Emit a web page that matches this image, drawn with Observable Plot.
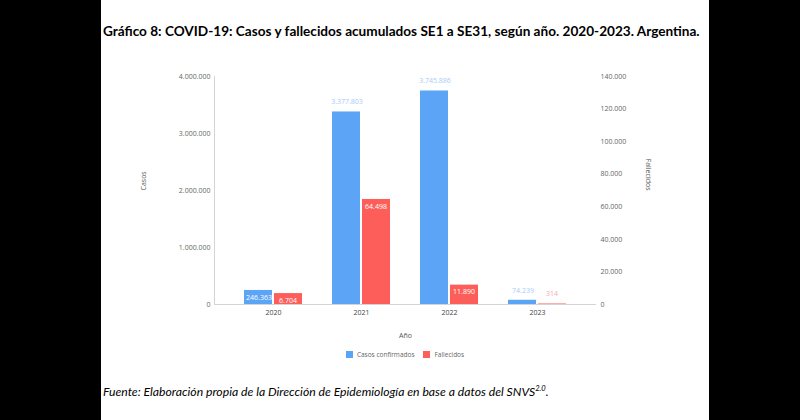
<!DOCTYPE html>
<html>
<head>
<meta charset="utf-8">
<script src="https://cdn.jsdelivr.net/npm/d3@7"></script>
<script src="https://cdn.jsdelivr.net/npm/@observablehq/plot@0.6"></script>
<style>
  html, body { margin: 0; padding: 0; background: #000; width: 800px; height: 420px; overflow: hidden; }
  #page { position: absolute; left: 101px; top: 0; width: 608px; height: 420px; background: #fff; overflow: hidden; }
  #title { position: absolute; left: 2px; top: 23px; text-align: left;
           font: bold 15px Lato, sans-serif; color: #000; white-space: nowrap; }
  #chart { position: absolute; left: 0; top: 60px; width: 608px; height: 300px; }
  #chart svg { position: absolute; left: 0; top: 0; }
  #legend { position: absolute; left: 0; top: 350px; width: 608px; display: flex; justify-content: center;
            font: 6.5px "Open Sans", sans-serif; color: #666; gap: 9px; }
  #legend span.item { display: flex; align-items: center; gap: 4px; }
  #legend span.sw { display: inline-block; width: 7px; height: 7px; }
  #caption { position: absolute; left: 2px; top: 384px; font: italic 13px Lato, sans-serif; color: #000; white-space: nowrap; }
  #caption sup { font-size: 0.62em; }
</style>
</head>
<body>
<div id="page">
  <div id="title">Gráfico 8: COVID-19: Casos y fallecidos acumulados SE1 a SE31, según año. 2020-2023. Argentina.</div>
  <div id="chart"></div>
  <div id="legend"></div>
  <div id="caption">Fuente: Elaboración propia de la Dirección de Epidemiología en base a datos del SNVS<sup>2.0</sup>.</div>
</div>
<script>
// Cumulative COVID-19 cases and deaths, epidemiological weeks 1 to 31
const years = ["2020", "2021", "2022", "2023"];
const casos = [246363, 3377803, 3745886, 74239];
const fallecidos = [6704, 64498, 11890, 314];
const casosTicks = [0, 1000000, 2000000, 3000000, 4000000];
const fallecidosTicks = [0, 20000, 40000, 60000, 80000, 100000, 120000, 140000];
const seriesNames = ["Casos confirmados", "Fallecidos"];

const BLUE = "#5ba4f6";
const RED = "#fd5e5a";
const BLUE_LABEL = "#a9cbf7";
const RED_LABEL = "#f8aaa8";

const fmt = d3.formatLocale({decimal: ",", thousands: ".", grouping: [3], currency: ["$", ""]}).format(",d");

const W = 608, H = 300;
const margins = {marginTop: 16, marginRight: 113, marginBottom: 56, marginLeft: 113};
const FONT = "'Open Sans', sans-serif";

// A label sits inside the bar when the bar is neither tiny nor tall
const inside = (v, max) => v / max > 0.04 && v / max < 0.6;

function seriesPlot({values, max, ticks, fill, labelFill, side, title}) {
  const data = years.map((year, i) => ({year, value: values[i]}));
  const half = 30;
  const dx = side === "left" ? -14.5 : 14.5;
  const marks = [
    Plot.barY(data, {x: "year", y: "value", fill,
      insetRight: side === "left" ? half : 0, insetLeft: side === "left" ? 0 : half}),
    Plot.text(data.filter(d => inside(d.value, max)), {x: "year", y: "value", text: d => fmt(d.value),
      dx, dy: 7, fill: "white", lineAnchor: "middle"}),
    Plot.text(data.filter(d => !inside(d.value, max)), {x: "year", y: "value", text: d => fmt(d.value),
      dx, dy: -10, fill: labelFill, lineAnchor: "middle"}),
    Plot.axisY({anchor: side, ticks, tickFormat: fmt, tickSize: 0, tickPadding: 4, label: null, fill: "#666"}),
    Plot.text([title], {frameAnchor: side, dx: side === "left" ? -71 : 52,
      rotate: side === "left" ? -90 : 90, fill: "#555", lineAnchor: "middle"})
  ];
  if (side === "left") {
    marks.unshift(Plot.frame({anchor: "left", stroke: "#d4d4d4"}), Plot.ruleY([0], {stroke: "#d4d4d4"}));
    marks.push(
      Plot.axisX({tickSize: 0, tickPadding: 6, label: null, fill: "#444"}),
      Plot.text(["Año"], {frameAnchor: "bottom", dy: 31, fill: "#555", lineAnchor: "middle"})
    );
  } else {
    marks.push(Plot.axisX({ticks: [], label: null}));
  }
  return Plot.plot({
    width: W, height: H, ...margins,
    x: {domain: years, padding: 0.34},
    y: {domain: [0, max]},
    style: {fontSize: "7px", fontFamily: FONT, background: "transparent", overflow: "visible"},
    marks
  });
}

const chart = document.getElementById("chart");
chart.append(seriesPlot({values: casos, max: 4000000, ticks: casosTicks, fill: BLUE, labelFill: BLUE_LABEL, side: "left", title: "Casos"}));
chart.append(seriesPlot({values: fallecidos, max: 140000, ticks: fallecidosTicks, fill: RED, labelFill: RED_LABEL, side: "right", title: "Fallecidos"}));

const legend = document.getElementById("legend");
[[seriesNames[0], BLUE], [seriesNames[1], RED]].forEach(([name, color]) => {
  const item = document.createElement("span");
  item.className = "item";
  const sw = document.createElement("span");
  sw.className = "sw";
  sw.style.background = color;
  item.append(sw, document.createTextNode(name));
  legend.append(item);
});

// Size the heading and the source note to their text widths
function fitWidth(el, target) {
  const size = parseFloat(getComputedStyle(el).fontSize);
  el.style.fontSize = (size * target / el.getBoundingClientRect().width) + "px";
}
fitWidth(document.getElementById("title"), 597);
fitWidth(document.getElementById("caption"), 446);
</script>
</body>
</html>
